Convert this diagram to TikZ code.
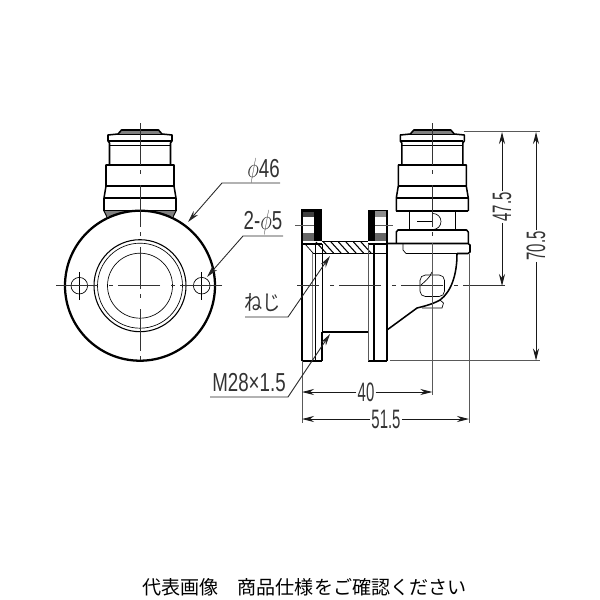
\documentclass[tikz,border=0pt]{standalone}
\usepackage{fontspec}
\setmainfont{Liberation Sans}
\newfontfamily\cjk{Noto Sans CJK JP}
\usetikzlibrary{arrows.meta}

\definecolor{inkgray}{gray}{0.35}
\definecolor{bandgray}{gray}{0.5}

\tikzset{every picture/.style={line width=0.75pt},
  outerline/.style={line width=1.7pt},
  thickline/.style={line width=1.15pt,line join=round},
  midline/.style={line width=0.8pt},
  thinline/.style={line width=0.5pt},
  grayline/.style={line width=0.7pt,color=inkgray},
  centerline/.style={line width=0.65pt,color=black!80,dash pattern=on 31.5pt off 3.75pt on 3pt off 8.25pt},
  leader/.style={line width=0.65pt,color=black!85,-{Stealth[length=9pt,width=4.5pt]}},
  dimarrow/.style={line width=0.65pt,color=black!90,-{Stealth[length=9pt,width=4.5pt]}},
  dimlabel/.style={font=\fontsize{20}{20}\selectfont,text=black!80,inner sep=1.5pt,xscale=0.56},
  notelabel/.style={font=\fontsize{19.5}{20}\selectfont,text=black!80,inner sep=0pt,xscale=0.72},
  kanalabel/.style={font=\cjk\fontsize{16}{16}\selectfont,text=black!80,inner sep=0pt,xscale=0.85},
}

\begin{document}
\begin{tikzpicture}[x=0.75pt,y=0.75pt,yscale=-1,xscale=1]
  \useasboundingbox (0,0) rectangle (600,600);

  %Head, front and side view
  \foreach \cx in {140,432.3} {
    \begin{scope}[shift={(\cx,0)}]
      \fill [bandgray] (-18.5,130.5) -- (18.5,130.5) -- (22,134) -- (-22,134) -- cycle;
      \draw [thickline] (-36,211) -- (-36,198) -- (-34,186) -- (-34,165) -- (-30.5,165) -- (-30.5,143) -- (-32,141) -- (-32,135) -- (-22,134) -- (-18.5,130) -- (18.5,130) -- (22,134) -- (32,135) -- (32,141) -- (30.5,143) -- (30.5,165) -- (34,165) -- (34,186) -- (36,198) -- (36,211);
      \draw [midline] (-32,134.5) -- (32,134.5);
      \draw [midline] (-31,141) -- (31,141);
      \draw [thinline] (-30,145) -- (30,145);
      \draw [thickline] (-34,165) -- (34,165);
      \draw [midline] (-34,186) -- (34,186);
      \draw [thickline] (-36,198) -- (36,198);
      \draw [midline] (-36,211) -- (36,211);
    \end{scope}
  }

  %Front view
  \fill [bandgray] (104,211) -- (176,211) -- (173,216) -- (107,216) -- cycle;
  \draw [midline] (104,211) -- (108,219);
  \draw [midline] (176,211) -- (172,219);
  \draw [outerline,fill=white] (140,285.7) circle [radius=75];
  \draw [midline] (140,285.7) circle [radius=46];
  \draw [thinline] (140,285.7) circle [radius=42.5];
  \draw [thinline] (140,285.7) circle [radius=32.5];
  \draw [thinline] (79.3,285.7) circle [radius=8.3];
  \draw [thinline] (201.7,285.7) circle [radius=8.3];
  \draw [thinline] (79.3,272) -- (79.3,300);
  \draw [thinline] (201.7,272) -- (201.7,300);
  \draw [centerline] (222,285.7) -- (52,285.7);
  \draw [centerline] (140,123) -- (140,368);

  %Side view, neck and collar
  \draw [thickline] (409.3,212) -- (409.3,230);
  \draw [thickline] (455.3,212) -- (455.3,230);
  \draw [thickline] (396.3,243) -- (396.3,232) -- (398,230) -- (466.5,230) -- (468.3,232) -- (468.3,243);
  \draw [thinline] (417,221.5) -- (433,221.5);
  \draw [thinline] (433,213.5) arc [start angle=-90,end angle=90,radius=8];

  %Side view, flanges
  \fill [black] (314,210) rectangle (322,241);
  \fill [black] (368,210) rectangle (375,241);
  \fill [black!75] (302,210.5) rectangle (314,217);
  \fill [black!45] (375,210.5) rectangle (387,217);
  \fill [black!60] (302,233) rectangle (314,241);
  \fill [black!60] (375,233) rectangle (387,241);
  \draw [outerline] (302,361) -- (302,210.5) -- (322,210.5);
  \draw [midline] (368,210.5) -- (387,210.5) -- (387,361);
  \draw [outerline] (302,361) -- (322,361);
  \draw [outerline] (368,361) -- (387,361);
  \draw [grayline] (295,225) -- (314,225);
  \draw [grayline] (375,225) -- (393,225);

  %Side view, hatched wall
  \foreach \hx in {316,323.5,...,368} {
    \draw [line width=0.8pt] (\hx,242) -- (\hx+10,253);
  }
  \draw [thickline] (322,241.5) -- (368,241.5);
  \draw [midline] (302,244) -- (322,244);
  \draw [midline] (368,244) -- (387,244);
  \draw [midline] (312,253.3) -- (387,253.3);
  \draw [thinline] (305,244) -- (313,253);
  \draw [line width=1.3pt,color=bandgray] (312.5,253) -- (312.5,361);
  \draw [thinline] (315,244) -- (315,361);
  \draw [thinline] (322,244) -- (322,332);
  \draw [midline] (322,332) -- (322,361);
  \draw [thinline,color=inkgray] (368,244) -- (368,361);
  \draw [thickline] (374,244) -- (374,361);
  \draw [thickline] (322,332) -- (368,332);

  %Side view, elbow
  \draw [thinline] (403,244) -- (403,250) -- (406,253.5) -- (457,253.5);
  \draw [thickline] (457,253.5) -- (468,253.5) -- (470,252) -- (470,245) -- (468,243.5) -- (387,243.5);
  \draw [thickline] (457,254) .. controls (457,275) and (451,292) .. (440,300) .. controls (433,304) and (425,306) .. (417,308) -- (387,330);
  \draw [thinline,rounded corners=4pt] (420,275) rectangle (444.5,296.5);
  \draw [thinline] (440,300) -- (443.5,303) -- (442,308) -- (422,308);
  \draw [thinline] (420,286) .. controls (424,282) and (430,278) .. (432,272);

  \draw [centerline] (505,285.7) -- (297,285.7);
  \draw [centerline] (432.3,123) -- (432.3,243);

  %Extension lines
  \draw [grayline] (432.3,243) -- (432.3,395);
  \draw [grayline] (464,131.5) -- (540,131.5);
  \draw [grayline] (390,360.5) -- (540,360.5);
  \draw [grayline] (302,361) -- (302,423);
  \draw [grayline] (469,254) -- (469,423);

  %Dimensions
  \coordinate (left40) at (302,392);
  \coordinate (right40) at (432.3,392);
  \coordinate (left515) at (302,419);
  \coordinate (right515) at (469,419);
  \coordinate (top475) at (502,132);
  \coordinate (bottom475) at (502,286);
  \coordinate (top705) at (536,132);
  \coordinate (bottom705) at (536,360.5);
  \node [dimlabel] (dimforty) at (366,392) {40};
  \node [dimlabel] (dimfiftyone) at (386,419) {51.5};
  \node [rotate=90,dimlabel] (dimfortyseven) at (502,207) {47.5};
  \node [rotate=90,dimlabel] (dimseventy) at (536,246) {70.5};
  \draw [dimarrow] (dimforty) -- (left40);
  \draw [dimarrow] (dimforty) -- (right40);
  \draw [dimarrow] (dimfiftyone) -- (left515);
  \draw [dimarrow] (dimfiftyone) -- (right515);
  \draw [dimarrow] (dimfortyseven) -- (top475);
  \draw [dimarrow] (dimfortyseven) -- (bottom475);
  \draw [dimarrow] (dimseventy) -- (top705);
  \draw [dimarrow] (dimseventy) -- (bottom705);

  %Notes with leaders
  \node [notelabel] (notephi) at (263.5,170.5) {$\phi$46};
  \node [notelabel] (noteholes) at (263,222.5) {2-$\phi$5};
  \node [kanalabel] (notescrew) at (262.5,303) {ねじ};
  \node [notelabel] (notethread) at (249,382.5) {M28×1.5};
  \coordinate (phiend) at (280,183);
  \coordinate (phiknee) at (222,183);
  \coordinate (phitip) at (188,222);
  \coordinate (holesend) at (283,236);
  \coordinate (holesknee) at (243,236);
  \coordinate (holestip) at (207,277);
  \coordinate (screwend) at (245,317);
  \coordinate (screwknee) at (288,317);
  \coordinate (screwtip) at (330,256);
  \coordinate (threadend) at (210,397);
  \coordinate (threadknee) at (288,397);
  \coordinate (threadtip) at (330,334);
  \draw [leader] (phiend) -- (phiknee) -- (phitip);
  \draw [leader] (holesend) -- (holesknee) -- (holestip);
  \draw [leader] (screwend) -- (screwknee) -- (screwtip);
  \draw [leader] (threadend) -- (threadknee) -- (threadtip);

  % Caption
  \node [font=\cjk\fontsize{14.3}{14.3}\selectfont,text=black,inner sep=0pt] (caption) at (304.5,587) {代表画像　商品仕様をご確認ください};
\end{tikzpicture}
\end{document}
